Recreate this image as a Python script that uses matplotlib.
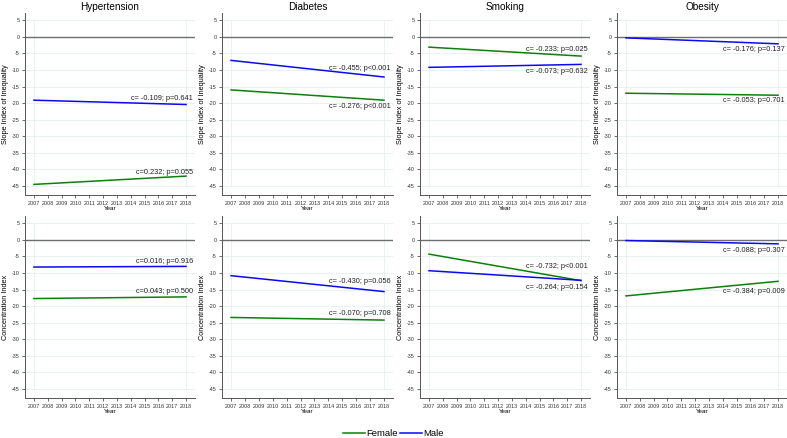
import matplotlib
matplotlib.use("Agg")
import matplotlib.pyplot as plt
from matplotlib.lines import Line2D

plt.rcParams['font.family'] = ['Liberation Sans', 'DejaVu Sans']

years = [2007, 2018]
conditions = ["Hypertension", "Diabetes", "Smoking", "Obesity"]
row_labels = ["Slope Index of Inequality", "Concentration Index"]

# Fitted endpoints (2007, 2018)
sii_female = [[-44.5, -42.0], [-16.0, -19.1], [-3.1, -5.8], [-17.0, -17.6]]
sii_male = [[-19.1, -20.4], [-7.1, -12.1], [-9.2, -8.3], [-0.3, -2.1]]
ci_female = [[-17.7, -17.2], [-23.4, -24.2], [-4.3, -12.3], [-16.9, -12.5]]
ci_male = [[-8.2, -8.0], [-10.8, -15.6], [-9.3, -12.2], [-0.2, -1.2]]

sii_female_lab = ["c=0.232; p=0.055", "c= -0.276; p<0.001", "c= -0.233; p=0.025", "c= -0.053; p=0.701"]
sii_male_lab = ["c= -0.109; p=0.641", "c= -0.455; p<0.001", "c= -0.073; p=0.632", "c= -0.176; p=0.137"]
ci_female_lab = ["c=0.043; p=0.500", "c= -0.070; p=0.708", "c= -0.732; p<0.001", "c= -0.384; p=0.009"]
ci_male_lab = ["c=0.016; p=0.916", "c= -0.430; p=0.056", "c= -0.264; p=0.154", "c= -0.088; p=0.307"]

# annotation heights (data units)
sii_female_ly = [-41.0, -21.0, -3.8, -19.3]
sii_male_ly = [-18.5, -9.4, -10.4, -3.8]
ci_female_ly = [-15.7, -22.3, -8.1, -15.6]
ci_male_ly = [-6.5, -12.5, -14.4, -3.1]

year_ticks = list(range(2007, 2019))
y_ticks = list(range(5, -50, -5))

GREEN = "#0b800b"
BLUE = "#0a0af0"
W, H = 787, 438
fig = plt.figure(figsize=(W / 100, H / 100), dpi=100)

col_left = [25, 222, 420, 617]
col_right = [195, 393, 590, 787]
row_top = [13, 216]
row_bottom = [195, 398]

rows = [
    (sii_female, sii_male, sii_female_lab, sii_male_lab, sii_female_ly, sii_male_ly),
    (ci_female, ci_male, ci_female_lab, ci_male_lab, ci_female_ly, ci_male_ly),
]

for r in range(2):
    fem, mal, flab, mlab, fly, mly = rows[r]
    for c in range(4):
        l = col_left[c] / W
        b = 1 - row_bottom[r] / H
        w = (col_right[c] - col_left[c]) / W
        h = (row_bottom[r] - row_top[r]) / H
        ax = fig.add_axes([l, b, w, h])
        ax.set_xlim(2006.35, 2018.65)
        ax.set_ylim(-47.7, 7.2)
        for yv in y_ticks:
            ax.plot([2006.35, 2018.65], [yv, yv], color="#e6eff1", lw=0.6, zorder=0)
        for xv in [2007, 2018]:
            ax.plot([xv, xv], [-45, 5], color="#e6eff1", lw=0.6, zorder=0)
        ax.axhline(0, color="#6e6e6e", lw=1.0, zorder=1)
        ax.plot(years, fem[c], color=GREEN, lw=1.1, zorder=3)
        ax.plot(years, mal[c], color=BLUE, lw=1.1, zorder=3)
        for lab, ly in [(flab[c], fly[c]), (mlab[c], mly[c])]:
            ax.text(2018.5, ly, lab, ha="right", va="center", fontsize=5.3, color="#222222")
        ax.set_xticks(year_ticks)
        ax.set_xticklabels([str(y) for y in year_ticks], fontsize=3.9)
        ax.set_yticks(y_ticks)
        ax.set_yticklabels([str(y) for y in y_ticks], fontsize=3.9)
        ax.tick_params(axis="both", length=2.5, width=0.5, pad=1.5, colors="#333333")
        for s in ["top", "right"]:
            ax.spines[s].set_visible(False)
        for s in ["left", "bottom"]:
            ax.spines[s].set_color("#555555")
            ax.spines[s].set_linewidth(0.7)
        ax.set_xlabel("Year", fontsize=4.5, labelpad=0.5)
        ax.set_ylabel(row_labels[r], fontsize=5.3, labelpad=2)
        if r == 0:
            ax.set_title(conditions[c], fontsize=7.2, pad=2)

handles = [Line2D([0], [0], color=GREEN, lw=1.1), Line2D([0], [0], color=BLUE, lw=1.1)]
fig.legend(handles, ["Female", "Male"], loc="center", bbox_to_anchor=(0.5, 1 - 434 / H),
           ncol=2, frameon=False, fontsize=6.8, handlelength=2.3, columnspacing=0.2,
           handletextpad=0.2)

fig.savefig("out.png", dpi=100)
